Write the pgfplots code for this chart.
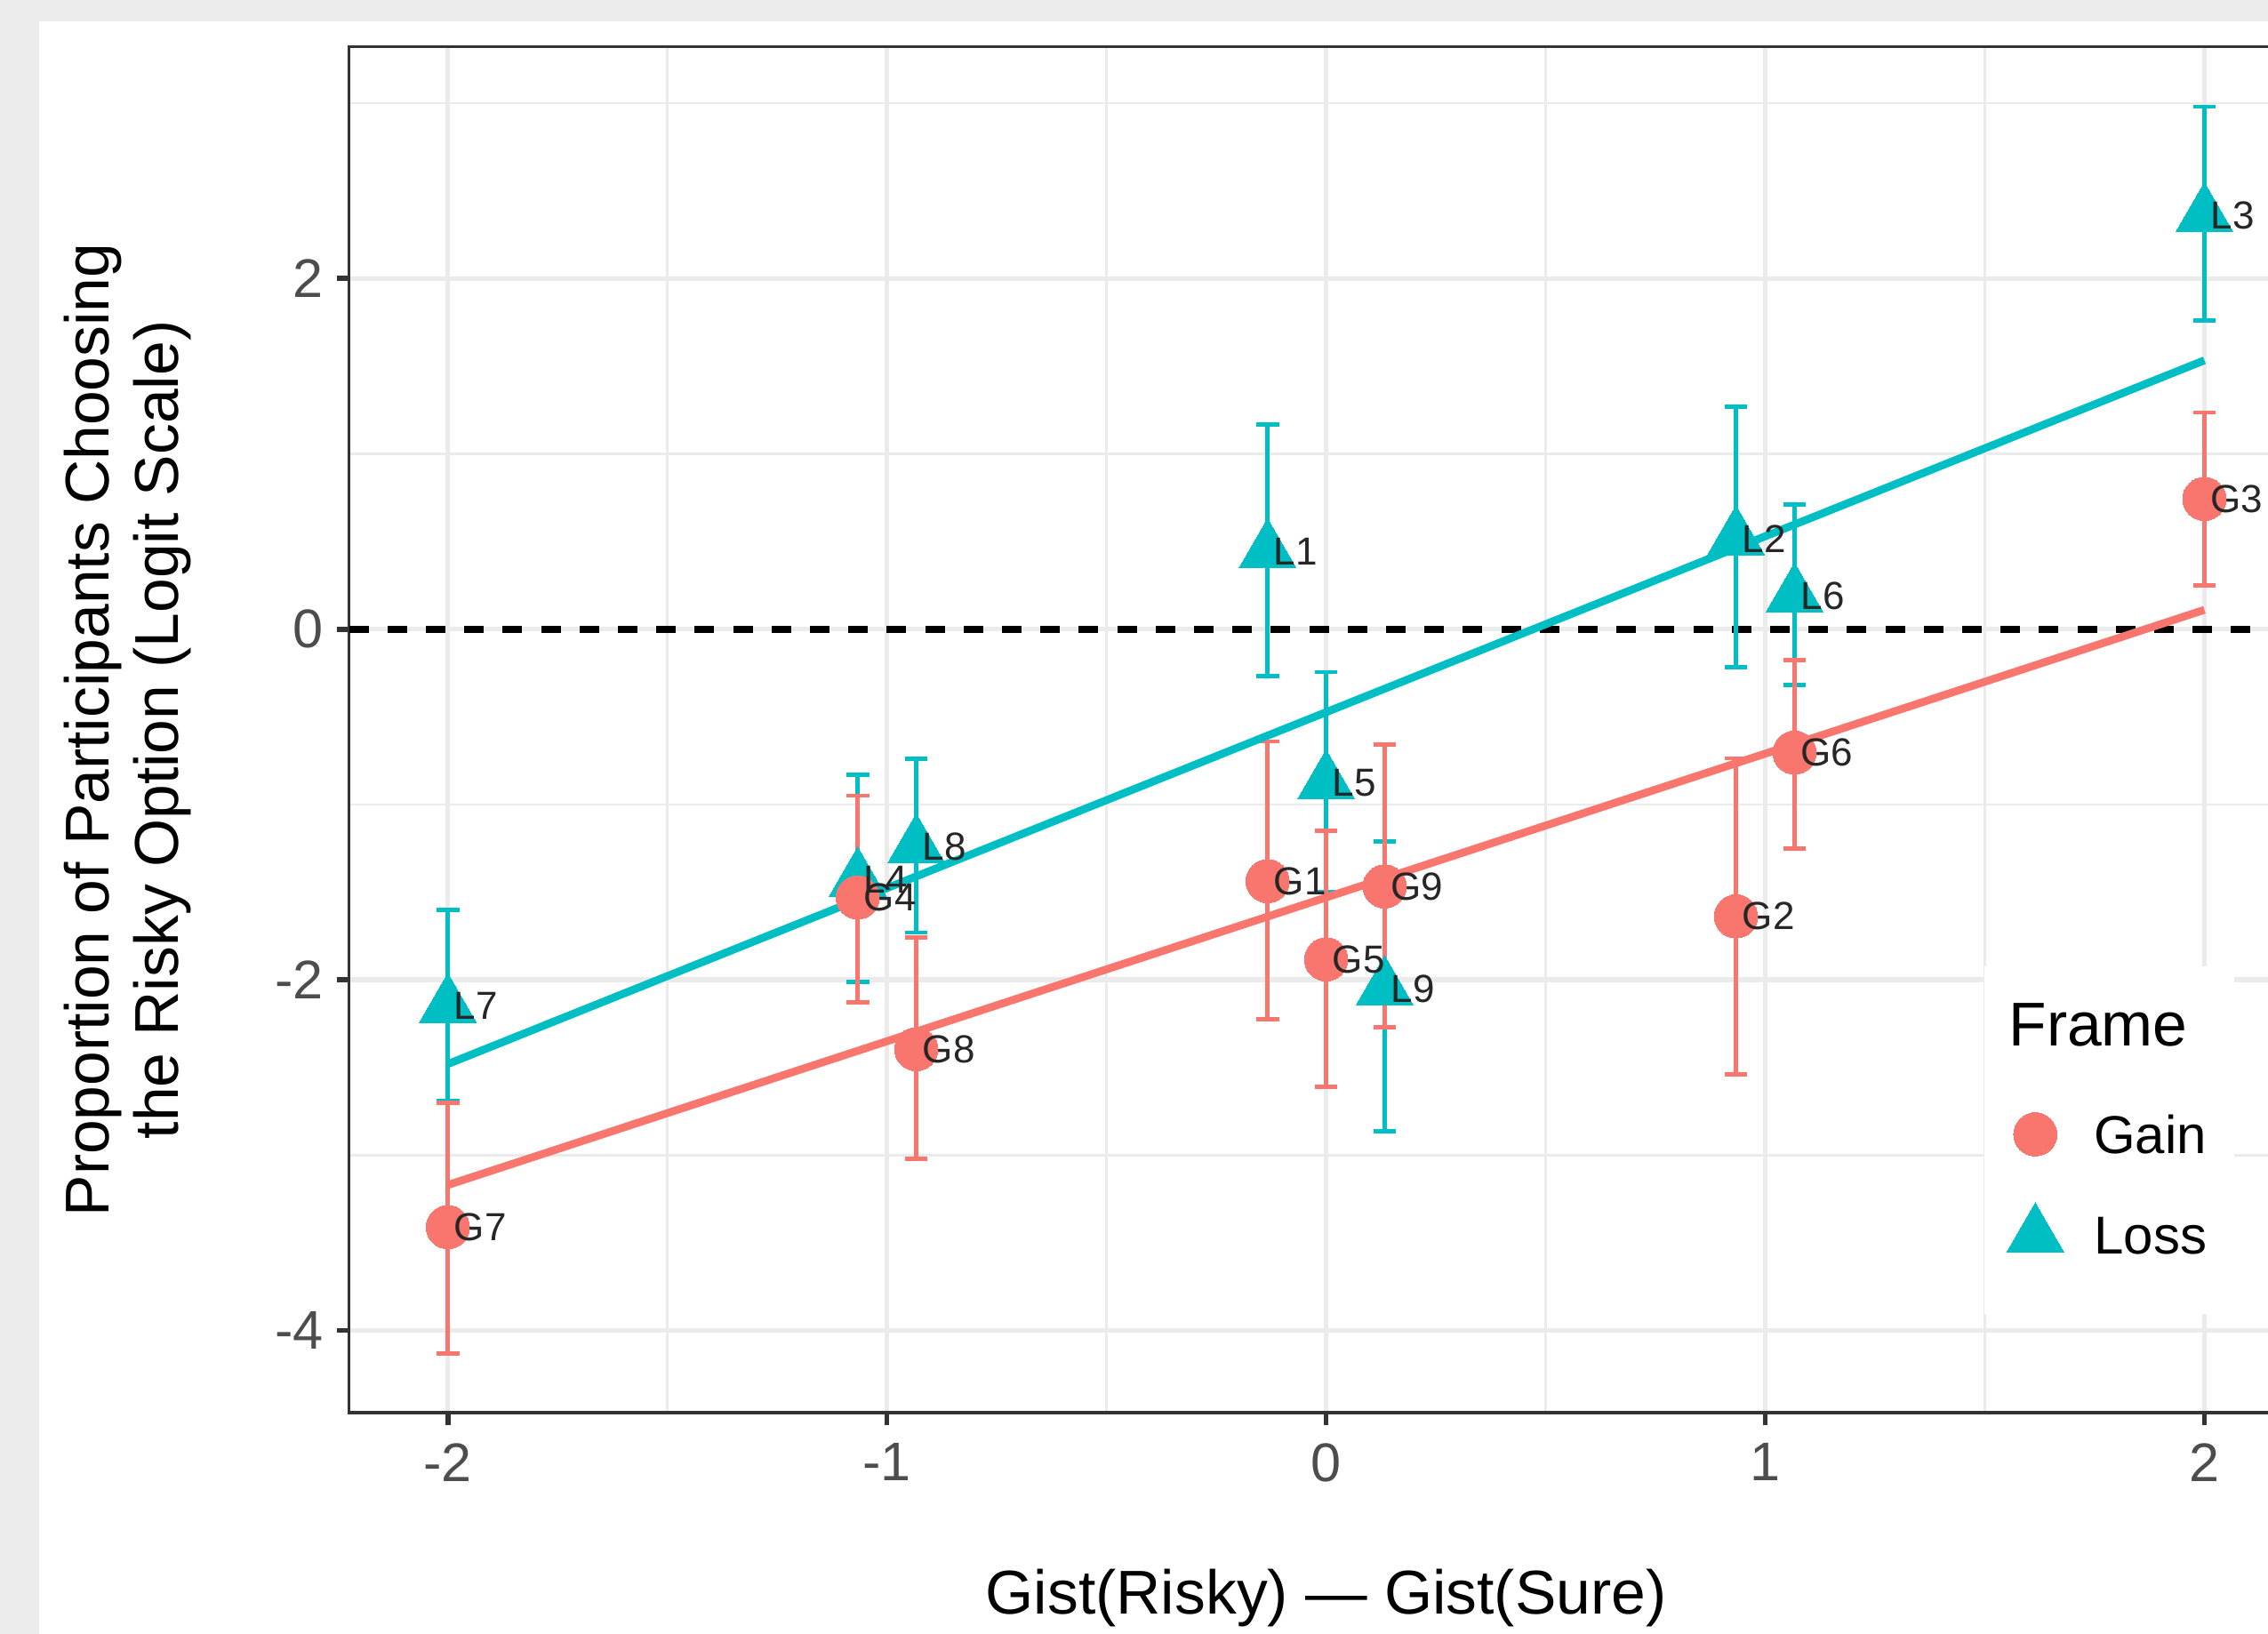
\documentclass[border=0pt]{standalone}
\usepackage{fontspec}
\setmainfont{Liberation Sans}
\usepackage{pgfplots}
\usepackage{pgfplotstable}
\pgfplotsset{compat=1.18}

\definecolor{gainc}{HTML}{F8766D}
\definecolor{lossc}{HTML}{00BFC4}
\definecolor{gridc}{HTML}{EBEBEB}
\definecolor{bordc}{HTML}{333333}
\definecolor{tickc}{HTML}{4D4D4D}
\definecolor{bgc}{HTML}{EBEBEB}

\pgfplotstableread{
x y lo hi label
-2 -3.41 -4.13 -2.70 G7
-1.0667 -1.53 -2.13 -0.95 G4
-0.9333 -2.395 -3.02 -1.76 G8
-0.1333 -1.437 -2.225 -0.64 G1
0 -1.883 -2.61 -1.15 G5
0.1333 -1.467 -2.27 -0.659 G9
0.9333 -1.638 -2.54 -0.737 G2
1.0667 -0.704 -1.253 -0.176 G6
2 0.743 0.25 1.236 G3
}\gain

\pgfplotstableread{
x y lo hi label
-2 -2.15 -2.69 -1.60 L7
-1.0667 -1.43 -2.01 -0.83 L4
-0.9333 -1.24 -1.73 -0.74 L8
-0.1333 0.443 -0.267 1.168 L1
0 -0.875 -1.50 -0.245 L5
0.1333 -2.05 -2.865 -1.21 L9
0.9333 0.517 -0.217 1.268 L2
1.0667 0.191 -0.319 0.712 L6
2 2.36 1.76 2.98 L3
}\loss

\begin{document}
\begin{tikzpicture}
\useasboundingbox (0,0) rectangle (637.75pt,459.5pt);
\clip (0,0) rectangle (637.75pt,459.5pt);
\fill[bgc] (0,0) rectangle (637.75pt,459.5pt);
\fill[white] (11pt,0) rectangle (637.75pt,453.5pt);
\begin{axis}[
  at={(98.15pt,62.175pt)}, anchor=south west,
  scale only axis, width=549.5pt, height=384.15pt,
  xmin=-2.225, xmax=2.225, ymin=-4.4695, ymax=3.321,
  xtick={-2,-1,0,1,2}, xticklabels={-2,-1,0,1,2},
  ytick={-4,-2,0,2}, yticklabels={-4,-2,0,2},
  minor xtick={-1.5,-0.5,0.5,1.5},
  minor ytick={-3,-1,1,3},
  grid=both,
  major grid style={line width=1.35pt, color=gridc},
  minor grid style={line width=0.7pt, color=gridc},
  minor tick length=0pt,
  major tick length=3.5pt,
  tick align=outside, tick pos=left,
  major tick style={line width=1.4pt, color=bordc},
  axis line style={line width=0.9pt, color=bordc},
  ticklabel style={font=\fontsize{15.3}{18}\selectfont, text=tickc},
  xticklabel style={anchor=north, inner sep=0pt, yshift=-4.85pt},
  yticklabel style={anchor=east, inner sep=0pt, xshift=-3.55pt},
  xlabel={Gist(Risky) — Gist(Sure)},
  xlabel style={at={(axis description cs:0.5,-0.14708)}, anchor=base, inner sep=0pt, font=\fontsize{17.4}{20}\selectfont},
  ylabel={Proportion of Participants Choosing\\the Risky Option (Logit Scale)},
  ylabel style={at={(axis description cs:-0.1464,0.5)}, anchor=north, inner sep=0pt, align=center, font=\fontsize{17.4}{19.6}\selectfont},
  legend cell align=left,
  legend image code/.code={\path[draw=none, fill=none] (-12pt,-14.25pt) rectangle (16.5pt,14.25pt); \draw[#1] plot coordinates {(0pt,0pt)};},
  legend style={at={(axis cs:1.5178,-2.592)}, anchor=north west, draw=none, fill=none, inner sep=0pt, outer sep=0pt, row sep=0pt, column sep=0pt, font=\fontsize{15}{18}\selectfont, nodes={inner sep=0pt, text depth=0pt}},
]
% reference line
\addplot[forget plot, black, line width=1.9pt, dash pattern=on 5.5pt off 5.3pt] coordinates {(-2.225,0) (2.225,0)};

% Loss points with error bars
\addplot[forget plot, only marks, color=lossc, mark=triangle*, mark size=9.3pt,
  mark options={fill=lossc, draw=lossc, line width=0pt},
  error bars/.cd, y dir=both, y explicit,
  error bar style={line width=1.2pt, color=lossc},
  error mark options={rotate=90, line width=1.2pt, mark size=3.2pt, color=lossc}]
  table[x=x, y=y, y error plus expr=\thisrow{hi}-\thisrow{y}, y error minus expr=\thisrow{y}-\thisrow{lo}] {\loss};

% Gain points with error bars
\addplot[forget plot, only marks, color=gainc, mark=*, mark size=6.1pt,
  mark options={fill=gainc, draw=gainc, line width=0pt},
  error bars/.cd, y dir=both, y explicit,
  error bar style={line width=1.2pt, color=gainc},
  error mark options={rotate=90, line width=1.2pt, mark size=3.2pt, color=gainc}]
  table[x=x, y=y, y error plus expr=\thisrow{hi}-\thisrow{y}, y error minus expr=\thisrow{y}-\thisrow{lo}] {\gain};

% fitted lines
\addplot[forget plot, color=lossc, line width=2.2pt] coordinates {(-2,-2.48) (2,1.533)};
\addplot[forget plot, color=gainc, line width=2.2pt] coordinates {(-2,-3.17) (2,0.11)};

% labels
\addplot[forget plot, only marks, mark=none, point meta=explicit symbolic,
  nodes near coords, nodes near coords style={anchor=west, inner sep=0pt, xshift=1.6pt, font=\fontsize{11}{13}\selectfont, text=black!85}]
  table[x=x, y=y, meta=label] {\loss};
\addplot[forget plot, only marks, mark=none, point meta=explicit symbolic,
  nodes near coords, nodes near coords style={anchor=west, inner sep=0pt, xshift=1.6pt, font=\fontsize{11}{13}\selectfont, text=black!85}]
  table[x=x, y=y, meta=label] {\gain};

% legend box and title
\fill[white] (axis cs:1.498,-1.921) rectangle (axis cs:2.068,-3.907);
\node[anchor=base west, inner sep=0pt, font=\fontsize{17.4}{20}\selectfont] at (axis cs:1.553,-2.377) {Frame};

\addlegendimage{mark=*, mark size=6.1pt, color=gainc, mark options={fill=gainc, draw=gainc, line width=0pt}}
\addlegendentry{Gain}
\addlegendimage{mark=triangle*, mark size=9.3pt, color=lossc, mark options={fill=lossc, draw=lossc, line width=0pt}}
\addlegendentry{Loss}
\end{axis}
\end{tikzpicture}
\end{document}
